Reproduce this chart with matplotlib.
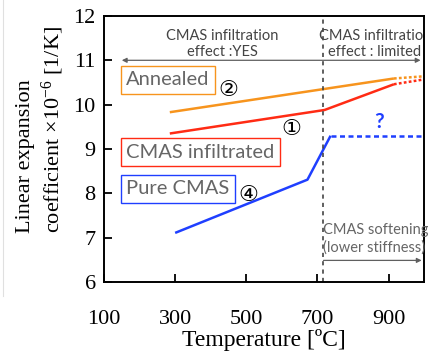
import matplotlib
matplotlib.use("Agg")
import matplotlib.pyplot as plt
from matplotlib.lines import Line2D

plt.rcParams['font.family'] = ['Liberation Serif', 'DejaVu Sans']
plt.rcParams['mathtext.fontset'] = 'custom'
plt.rcParams['mathtext.rm'] = 'Liberation Serif'
plt.rcParams['mathtext.it'] = 'Liberation Serif:italic'

# values
annealed_t = [285, 915]
annealed_v = [9.83, 10.59]
annealed_ext_t = [915, 1000]
annealed_ext_v = [10.59, 10.64]

infil_t = [285, 720, 915]
infil_v = [9.35, 9.88, 10.46]
infil_ext_t = [915, 1000]
infil_ext_v = [10.46, 10.57]

pure_t = [300, 672, 737]
pure_v = [7.11, 8.31, 9.30]
pure_ext_t = [737, 995]
pure_ext_v = [9.30, 9.30]

boundary_t = 715
xticks = [100, 300, 500, 700, 900]
yticks = [6, 7, 8, 9, 10, 11, 12]

orange = "#F7941D"
red = "#FF2B14"
blue = "#1F3FFF"
gray = "#5f5f5f"

fig = plt.figure(figsize=(4.28, 3.54), dpi=100)
ax = fig.add_axes([0.243, 0.203, 0.748, 0.752])

ax.plot(annealed_t, annealed_v, color=orange, lw=1.8, solid_capstyle='butt')
ax.plot(annealed_ext_t, annealed_ext_v, color=orange, lw=1.8, ls=(0, (1.1, 0.9)))
ax.plot(infil_t, infil_v, color=red, lw=1.8, solid_capstyle='butt')
ax.plot(infil_ext_t, infil_ext_v, color=red, lw=1.8, ls=(0, (1.1, 0.9)))
ax.plot(pure_t, pure_v, color=blue, lw=1.8, solid_capstyle='butt')
ax.plot(pure_ext_t, pure_ext_v, color=blue, lw=1.8, ls=(0, (2.0, 1.4)))

ax.axvline(boundary_t, color="#444444", lw=1.2, ls=(0, (2.5, 2.5)))

ax.set_xlim(100, 1000)
ax.set_ylim(6, 12)
ax.set_xticks(xticks)
ax.set_xticklabels([str(t) for t in xticks], family='Liberation Serif')
ax.set_yticks(yticks)
ax.set_yticklabels([str(t) for t in yticks], family='Liberation Serif')
ax.tick_params(direction='in', length=6, width=1.3, labelsize=16)
ax.tick_params(axis='x', pad=20)
ax.tick_params(axis='y', pad=6)
for s in ax.spines.values():
    s.set_linewidth(1.4)

ax.set_xlabel("Temperature [ºC]", fontsize=17, labelpad=0)
fig.text(41 / 428, 1 - 233 / 354, "Linear expansion\ncoefficient ×10$^{-6}$ [1/K]",
         rotation=90, ha='center', va='bottom', multialignment='left', fontsize=16)

# arrows and region notes
ax.annotate("", xy=(150, 11.0), xytext=(990, 11.0),
            arrowprops=dict(arrowstyle='<|-|>', color=gray, lw=0.9,
                            mutation_scale=7, shrinkA=0, shrinkB=0))
ax.annotate("", xy=(993, 6.49), xytext=(717, 6.49),
            arrowprops=dict(arrowstyle='-|>', color=gray, lw=0.9,
                            mutation_scale=7, shrinkA=0, shrinkB=0))

note_kw = dict(family='Lato', fontsize=10.5, linespacing=1.25, va='center')
ax.text(432, 11.37, "CMAS infiltration\neffect :YES", color="#444444", ha='center', **note_kw)
ax.text(862, 11.37, "CMAS infiltration\neffect : limited", color="#444444", ha='center',
        clip_on=True, **note_kw)
ax.text(717, 6.98, "CMAS softening\n(lower stiffness)", color="#666666", ha='left', **note_kw)

box_kw = dict(family='Lato', fontsize=14.5, color="#666666", ha='left', va='center')
ax.text(162, 10.56, "Annealed", bbox=dict(boxstyle='square,pad=0.26', fc='white', ec=orange, lw=1.0), **box_kw)
ax.text(162, 8.93, "CMAS infiltrated", bbox=dict(boxstyle='square,pad=0.26', fc='white', ec=red, lw=1.0), **box_kw)
ax.text(162, 8.10, "Pure CMAS", bbox=dict(boxstyle='square,pad=0.26', fc='white', ec=blue, lw=1.0), **box_kw)

circ_kw = dict(family='DejaVu Sans', fontsize=16, ha='center', va='center')
ax.text(449, 10.34, "②", **circ_kw)
ax.text(627, 9.46, "①", **circ_kw)
ax.text(506, 7.97, "④", **circ_kw)
ax.text(872, 9.62, "?", family='Lato', weight='bold', fontsize=15, color=blue, ha='center', va='center')

fig.add_artist(Line2D([3 / 428, 3 / 428], [1 - 296 / 354, 1.0], color="#e0e0e0", lw=0.8))

fig.savefig("out.png", dpi=100)
